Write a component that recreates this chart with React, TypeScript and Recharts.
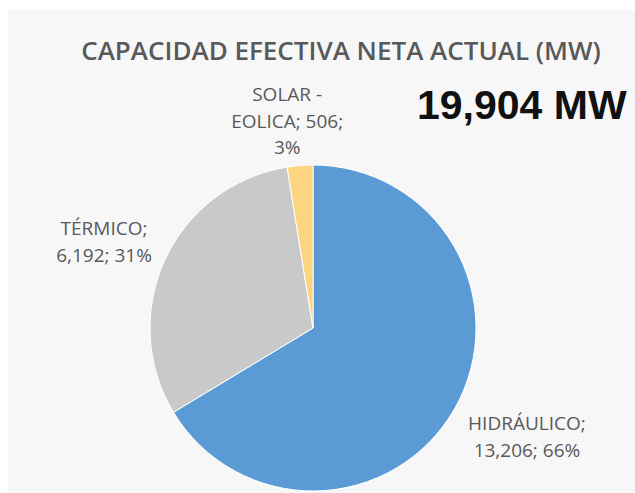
import React from 'react'
import { PieChart, Pie, Cell } from 'recharts'

const categories = ['HIDRÁULICO', 'TÉRMICO', 'SOLAR - EOLICA']
const capacityMw = [13206, 6192, 506]
const shares = [66, 31, 3]
const colors = ['#5B9BD5', '#C9C9C9', '#FDD47F']
const totalLabel = '19,904 MW'

const pieData = categories.map((name, i) => ({
  name,
  value: capacityMw[i],
  share: shares[i],
}))

// label lines per slice, and small nudges from the radial anchor
const labelLines = [
  ['HIDRÁULICO;', '13,206; 66%'],
  ['TÉRMICO;', '6,192; 31%'],
  ['SOLAR  -', 'EOLICA; 506;', '3%'],
]
const labelNudge = [
  { r: 70, dx: 11, dy: -6 },
  { r: 64, dx: -3, dy: 9 },
  { r: 48, dx: -9, dy: 3 },
]

const RADIAN = Math.PI / 180

const renderLabel = (props: any) => {
  const { cx, cy, midAngle, outerRadius, index } = props
  const n = labelNudge[index]
  const r = outerRadius + n.r
  const x = cx + r * Math.cos(-midAngle * RADIAN) + n.dx
  const y = cy + r * Math.sin(-midAngle * RADIAN) + n.dy
  const lines = labelLines[index]
  const lh = 26.5
  const y0 = y - ((lines.length - 1) * lh) / 2
  return (
    <text
      x={x}
      y={y0}
      textAnchor="middle"
      dominantBaseline="central"
      fill="#595959"
      fontSize={19}
      fontFamily="'Open Sans', sans-serif"
    >
      {lines.map((t, i) => (
        <tspan key={i} x={x} y={y0 + i * lh}>
          {t}
        </tspan>
      ))}
    </text>
  )
}

export default function App() {
  return (
    <div style={{ position: 'fixed', left: 0, top: 0, width: 635, height: 493, background: '#fff' }}>
      <div style={{ position: 'absolute', left: 8, top: 10, right: 0, bottom: 0, background: '#f7f7f7' }} />
      <div
        style={{
          position: 'absolute',
          left: 41,
          width: 600,
          top: 32,
          textAlign: 'center',
          fontFamily: "'Open Sans', sans-serif",
          fontWeight: 600,
          fontSize: 26,
          color: '#595959',
          whiteSpace: 'nowrap',
        }}
      >
        CAPACIDAD EFECTIVA NETA ACTUAL (MW)
      </div>
      <div
        style={{
          position: 'absolute',
          left: 417,
          top: 82,
          fontFamily: "'Liberation Sans', Arial, sans-serif",
          fontWeight: 700,
          fontSize: 41,
          color: '#111',
          whiteSpace: 'nowrap',
        }}
      >
        {totalLabel}
      </div>
      <div style={{ position: 'absolute', left: 0, top: 0 }}>
        <PieChart width={635} height={493} margin={{ top: 0, right: 0, bottom: 0, left: 0 }}>
          <Pie
            data={pieData}
            dataKey="value"
            nameKey="name"
            cx={313}
            cy={328}
            outerRadius={163}
            startAngle={90}
            endAngle={-270}
            stroke="#ffffff"
            strokeWidth={1}
            label={renderLabel}
            labelLine={false}
            isAnimationActive={false}
          >
            {pieData.map((d, i) => (
              <Cell key={d.name} fill={colors[i]} />
            ))}
          </Pie>
        </PieChart>
      </div>
    </div>
  )
}
